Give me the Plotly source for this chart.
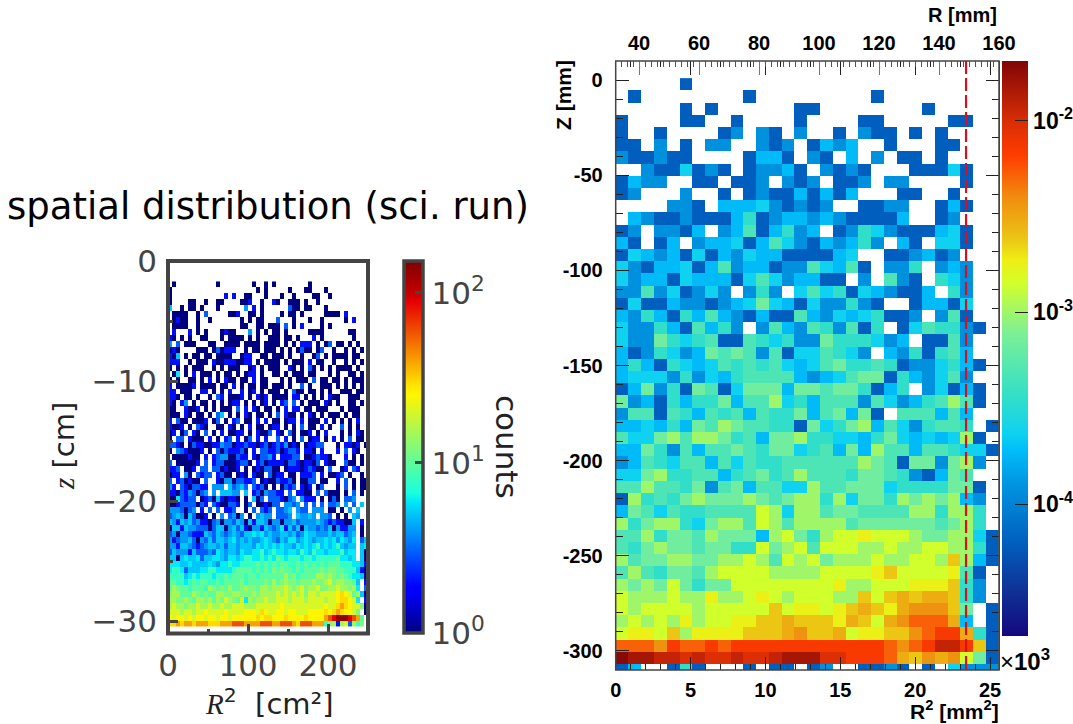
import math
import plotly.graph_objects as go

W, H = 1073, 724
def fx(p): return p / W
def fy(p): return 1 - p / H

# ---------- left panel: counts per cell, one character per cell
LEFT_LEVELS = {'1': 1, '2': 2, '3': 3, '4': 4, '5': 5, '6': 6, '7': 8, '8': 10, '9': 12,
               'a': 15, 'b': 20, 'c': 25, 'd': 30, 'e': 40, 'f': 60, 'g': 90, 'h': 135}
LEFT_ROWS = [
".1..........1........1..1.1........1..............",
"1.....................1.1.....1...11...1..........",
"1.............2.2..11...1...1..1....11..1.........",
"1....11..1..11....112..1..21..111.1..1............",
"5..1.11.1...1......4.2.1......311.11...1..........",
".1111..1.3.....112..11.1....1.11.1.....1111.2.....",
".1211..1..1.......1.1.11...3...1...1..1.....1.2...",
".1111..1..........11..11.111.3.1.2....1.1.........",
".2...2.1.1...1211...4.1.1.11.1.....1111......11...",
"21.1.1..11...1.1111.1.1..111.11.1...2.1.......1...",
"4.3.111...11..1111.1111.1111.1.1.222.1.13.11.1.1..",
"121....111.131222..1.11.111.1.1.1311.13..1..1.1.1.",
"215.1.11.11.1111..122..11.111.1..1..13.1.1111.11..",
"222..1.111.2112221122.1.1111.1.111.2.11..1..1.1.1.",
"1.1.1.111..1.1.111..12.1.111..21.1.31.1.1.1111.1..",
".16.1.2.111.1.11.1.122.1..11.1.111.11...1.1..11.1.",
"1.1..11.1.2.1.211.11.2.11...1.1.111.3.11.11.1.111.",
"2.11112.1111.11.2.1.11.11.111.1..3.1..111.1.1.1.1.",
"22.111..22.1.1.2..2.12.1.111.1.311.11.1.1..111.11.",
"221.11.1..1.32.1112.1.212.1111.22.1.1.1.211..111..",
"21.24.1.11.1.1.122.1.1.12.1.23.3.1.111.21.1..11.1.",
"11..2112.1.1.111.3.2.21.11.1.2.22.11.111...1.111..",
"111.21.11.1.35.1.1.21.11.1.3.211.1.21.1.111.1.11.",
"2.311.1112.13.1.23.11.2.2.11.122.2.111.2.1.1.1.2..",
"2112.1.321..11.21.1.2.11.122.1.1.3.11.2.1..3.1.1..",
"12.13.21.3.1.2.1122.1.2113.21.31.112.1.2...1.1.21.",
"1.33.2111.2.1.23.2.13.2.2..3.2.1.3.122.1.2.1.3.11.",
"3321.1322112243312232212312324121.12233...1.2212.1",
"1.4321112.1.31322231.2.3322312332.221.2...2.3.21..",
".1111211.2.234411322.213342.22233.1123221...2.1.1.",
"3.111112.3.2331112331.2312222133212213.211..311.1.",
"223.112.33.3312112.1.1213311.1222123211.3..12.32..",
"122.41.3233.2311.121.211.3122.11.2223.2.1123.1..1.",
"3.231211.3..2144133223.121132231.1133.11..2.3.1.11",
"42.3213322.444.53453.3231.1.1323.212.13...1.3.1.11",
"2213243134.4.55544.5.23143322.3.2211.3.3111.1.3.1.",
"1163233.1231521221.1.513.3332134.4222.1.131.334...",
"1123333132.3211332.13.112133.4434.3.3.3.334.4.3.5.",
"4443134.2.3.3.223..1.3.323.3345.433.444.11.1.4.5..",
"3454153112.1.4.3414.1.4544.3334.54454.443.1.1.54..",
"54254534221341443541525541441445344445432322115.2.",
"15525443331355145352144254346253515443435142244.1.",
"34144322254354345435565645445545346554445455345.1.",
"42344531435355456454544565435466456545565646546.35",
"44255432345545355455546565656554656567565675455.56",
"35444253334365455465566756766566576576656667566.51",
"55156556355665466567766767687677767767777786656.51",
"66655655556546676677778787878877878787878887776652",
"67763555667766667888878787989887878888989988777521",
"77775676777677878887887888888a8978888aa9a989876651",
"88776787887787888897888898a89a998999a99ab9aa9985.2",
"8a98878887a9898a889a998aa9aaaba9ab9aab99aabaa9a6.3",
"9aa888a98988aa99aa999a9aaaabababab9bbabbbbcdcb8a51",
"aa99a98aa9a8a9ba98b6a9aabaabbbabbbabbbbabbcddcb6.2",
"abaa9aabaabaabaabbbaaabbbbbbcbbbbbbbbbbcbbdedcbb91",
"bbbabbabbcbbbbcbbbbcccbdcbbccbccbbbccccdcdedccb9.1",
"cbccbcbccbccbccbccccccdcddcccdccccdccccefghhhgfe8.",
"ddedeedeeedddeeefffeeeefffeefffedfffeee79a2ab3a79.",
]
LEFT_X0, LEFT_DX = 2.5, 5.0
LEFT_Y_BOTTOM, LEFT_Y_STEP = -30.2, 0.4956
LEFT_XTICKS = [0, 100, 200]
LEFT_XMINOR = [50, 150, 250]
LEFT_YTICKS = [0, -10, -20, -30]
LEFT_YMINOR = [-5, -15, -25]
LEFT_CBAR_TICKS = [0, 1, 2]

# ---------- right panel: rate per cell, one character per cell
RIGHT_LEVELS = {'A': -4.2, 'B': -3.92, 'C': -3.73, 'D': -3.63, 'E': -3.45, 'F': -3.32, 'G': -3.16,
                'H': -3.0, 'I': -2.85, 'J': -2.74, 'K': -2.62, 'L': -2.52, 'M': -2.42, 'N': -2.28,
                'O': -2.15, 'P': -2.02, 'Q': -1.93, 'R': -1.82, 'S': -1.72}
RIGHT_ROWS = [
".....A........................",
".A........A.........A.........",
".....A.A......AA........A.....",
"A....AA..A....A....AA.....AA..",
"A..A....AB.BA.B..A.BAA.A.A....",
"AA.B.A.BB..BAB.ACBC..A...AA...",
"BAABAA....ACCA.BA.C.B.AA.A....",
"..BAADABA.ABBCA.BABA...AAADA..",
"ACBB..AA.AAB.BAB.AAB.BB....A..",
"AB...B..A.ABAACACAC...AA..A...",
"....BBA.CCCDBABAB..AABB..ACA..",
".CBAABAAACEABCCBCBAAAAC..AB...",
"AB.BBAC.BCFACEBC.ABEDBAAACDA..",
"CA.AC.BCCDACFDBACBCEB.CA.DDA..",
"ADCBCADACBDCCAAAACD..AABCAB...",
"DBACCDACFBCCABBFDCFA.BBE.BCB..",
"DBCCADCCCADFDBCCAA.B.FBA.EDB..",
"BBFBDABDB.BEB.DFDEADCBAAC.EB..",
"ADAACBBABCDGDCADBBEBA..ACCAD..",
"CBECAECFCBACAAFCBDCDEAAB.BFA..",
"DBBECAFCEB.BFCBFEBFAE.ADFEEBA.",
"DBBGEDEFAAFEDEBBGEEEDBC.AAFB..",
"CABEDBCGFGFBFADDFEDB.CBEAEFC..",
"CECAEDCDFEFEFDCDFGEEFEABBDECA.",
"CDDDBEBDCEFFFFCBCDFGGAECBDFB..",
"ACGBEAGFADGGGCGGFGGEACE.BDACA.",
"GBCAECEEGCFFHDECFFFBFDBCEFHFA.",
"BFFAFECFEFCFEEGCFGCGA.FFFCFC..",
"CCDCECGFHGFFEEAGDEGHCFDBEFFE.A",
"FDDGHFHHGEFCGGHEEDDCEGDCDCDHA.",
"CCGEBFCFFGFEGGDEFCGCHFFCFFEDDA",
"BCFEDFFCFDFEEFFFFFFHGFAGGBGHB.",
"DDGHEEFFCEFGEFHFFFEGGFEBACGF..",
"FFHFFEGBFGCFFDDHFFGGGDEEEEGGA.",
"AHEFEGHGGGHGFGHHEHDGGEHGHGHCB.",
"CGFDFEEFFFFIHDHHFGGFFFFHHEHHE.",
"HEGHHEDGHHFIHFHHHHFGGGGGGFGHE.",
"FFHEGGFHGGGCHIGEHIIJIIIHGGHHDA",
"FEGHGGFGGEEIGHIFIIIHHIHHIIHHEA",
"HFGGHHGGHHIHFIHIGHHHIHHIIHKHCA",
"FHFEGGFHIIIIHHHHIIIIJKIIIIJFA.",
"HGHGIGEGGIIIIIIIIJHHIIIJJJKEB.",
"IHHHIHHJHHIJIHIIIHHKIKLKLLKEB.",
"IHIIIIHIIIIIKIJJIJKLKJLMMMKG.A",
"HIHIHJHIIJJKKLKKKJLKILMNNNLC.A",
"IJJIKHJJJJKKKLMKKLIJJKKMNOOLEA",
"NNNMONNONOOOOOOOOOOOONMNOQQOKA",
"SRRQQPQPPQPPQRRRPPOOONLKMLMIGA",
"AC..AEA...A.AA.AB..AABA.A.DBBB",
]
RIGHT_X0, RIGHT_DX = 0.4267, 0.8533
RIGHT_Y_BOTTOM, RIGHT_Y_STEP = -309.9, 6.41
R2_CUT = 23.4
R2_TICKS = [0, 5, 10, 15, 20, 25]
R2_TOP_TICKS = [5, 10, 15, 20, 25]
R_TICKS = [40, 60, 80, 100, 120, 140, 160]
Z_TICKS = [0, -50, -100, -150, -200, -250, -300]
RIGHT_CBAR_TICKS = [-2, -3, -4]
RIGHT_CBAR_MINOR = [k + math.log10(m) for k in (-5, -4, -3, -2) for m in (2, 3, 4, 5, 6, 7, 8, 9)]

def decode(rows, levels, n, transform):
    out = []
    for r in reversed(rows):  # bottom row first, the y values rise
        r = r.ljust(n, '.')[:n]
        out.append([transform(levels[c]) if c in levels else None for c in r])
    return out

left_z = decode(LEFT_ROWS, LEFT_LEVELS, 50, math.log10)
right_z = decode(RIGHT_ROWS, RIGHT_LEVELS, 30, lambda v: v)

JET = [[0, "#00007f"], [0.11, "#0000ff"], [0.125, "#0000ff"], [0.35, "#00e5f8"], [0.375, "#16ffe1"],
       [0.64, "#fff500"], [0.66, "#ffea00"], [0.89, "#e80000"], [0.91, "#c80000"], [1, "#7f0000"]]
RIGHT_CMIN, RIGHT_CMAX = -4.6875, -1.69
def t(y): return (636 - y) / 575
RIGHT_SCALE = [[0, "#14087f"], [t(590), "#0f3296"], [t(543), "#005fbe"], [t(483), "#0096e1"],
               [t(450), "#00befa"], [t(433), "#0fd2f0"], [t(393), "#36e0c4"], [t(333), "#7cf096"],
               [t(283), "#d2ff2a"], [t(260), "#eeee14"], [t(237), "#ebc314"], [t(197), "#f08c0f"],
               [t(155), "#ff3c00"], [t(120), "#d72d05"], [1, "#820505"]]

DARK = "#444444"
BIG = dict(family="DejaVu Sans", size=31, color=DARK)
ROOT = dict(family="Liberation Sans", size=20, color="black", weight="bold")
ROOTBAR = dict(family="Liberation Sans", size=23, color="black", weight="bold")
SERIF = "<span style=\"font-family:'Liberation Serif'\"><i>%s</i></span>"

fig = go.Figure()
# left heatmap
fig.add_trace(go.Heatmap(
    z=left_z, x0=LEFT_X0, dx=LEFT_DX, y0=LEFT_Y_BOTTOM, dy=LEFT_Y_STEP, xaxis="x", yaxis="y",
    colorscale=JET, zmin=0, zmax=2.188, hoverongaps=False,
    colorbar=dict(x=fx(403.5), xanchor="left", y=fy(447), yanchor="middle", thickness=19, thicknessmode="pixels",
                  len=372, lenmode="pixels", xpad=0, ypad=0, outlinewidth=3.5, outlinecolor=DARK,
                  tickvals=LEFT_CBAR_TICKS, ticktext=["10<sup>0</sup>", "10<sup>1</sup>", "10<sup>2</sup>"],
                  ticks="inside", ticklen=9, tickwidth=3, tickcolor=DARK, tickfont=BIG)))
# right heatmap
fig.add_trace(go.Heatmap(
    z=right_z, x0=RIGHT_X0, dx=RIGHT_DX, y0=RIGHT_Y_BOTTOM, dy=RIGHT_Y_STEP, xaxis="x2", yaxis="y2",
    colorscale=RIGHT_SCALE, zmin=RIGHT_CMIN, zmax=RIGHT_CMAX, hoverongaps=False,
    colorbar=dict(x=fx(1002), xanchor="left", y=fy(348.5), yanchor="middle", thickness=26, thicknessmode="pixels",
                  len=575, lenmode="pixels", xpad=0, ypad=0, outlinewidth=0,
                  tickvals=RIGHT_CBAR_TICKS, ticktext=["10<sup>-2</sup>", "10<sup>-3</sup>", "10<sup>-4</sup>"],
                  ticks="inside", ticklen=13, tickwidth=1, tickcolor="#222", tickfont=ROOTBAR)))
# cut line
fig.add_trace(go.Scatter(x=[R2_CUT, R2_CUT], y=[10, -310], mode="lines", xaxis="x2", yaxis="y2",
                         line=dict(color="#d8101c", width=2.2, dash="13px,4px"), showlegend=False))
# helpers that carry the extra axes
fig.add_trace(go.Scatter(x=R2_TOP_TICKS, y=[None] * 5, mode="markers", xaxis="x3", yaxis="y2", showlegend=False))
fig.add_trace(go.Scatter(x=R_TICKS, y=[None] * 7, mode="markers", xaxis="x4", yaxis="y2", showlegend=False))
fig.add_trace(go.Scatter(x=[0], y=[None], mode="markers", xaxis="x2", yaxis="y3", showlegend=False))

L_X, L_Y = (168, 368), (261, 633.5)
R_X, R_Y = (615.7, 999), (61, 670)
dom_x = lambda a: [fx(a[0]), fx(a[1])]
dom_y = lambda a: [fy(a[1]), fy(a[0])]
lminor = dict(ticks="inside", ticklen=5, tickwidth=3, tickcolor=DARK)

fig.update_layout(
    width=W, height=H, margin=dict(l=0, r=0, t=0, b=0, autoexpand=False), showlegend=False,
    paper_bgcolor="white", plot_bgcolor="rgba(0,0,0,0)",
    xaxis=dict(domain=dom_x(L_X), range=[0, 250], anchor="y", showgrid=False, zeroline=False,
               tickvals=LEFT_XTICKS, ticktext=[str(v) for v in LEFT_XTICKS], ticks="inside", ticklen=10, tickwidth=3,
               tickcolor=DARK, tickfont=BIG, ticklabelstandoff=10, minor=dict(tickvals=LEFT_XMINOR, **lminor)),
    yaxis=dict(domain=dom_y(L_Y), range=[-31, 0], anchor="x", showgrid=False, zeroline=False,
               tickvals=LEFT_YTICKS, ticktext=["0", "\u221210", "\u221220", "\u221230"], ticks="inside", ticklen=10,
               tickwidth=3, tickcolor=DARK, tickfont=BIG, ticklabelstandoff=10, minor=dict(tickvals=LEFT_YMINOR, **lminor)),
    xaxis2=dict(domain=dom_x(R_X), range=[0, 25.6], anchor="y2", showgrid=False, zeroline=False,
                tickvals=R2_TICKS, ticktext=[str(v) for v in R2_TICKS], ticks="inside", ticklen=13, tickwidth=1,
                tickcolor="#222", tickfont=ROOT, ticklabelstandoff=6,
                minor=dict(dtick=1, ticks="inside", ticklen=6, tickwidth=1, tickcolor="#222")),
    yaxis2=dict(domain=dom_y(R_Y), range=[-310, 10], anchor="x2", showgrid=False, zeroline=False,
                tickvals=Z_TICKS, ticktext=[str(v) for v in Z_TICKS], ticks="inside", ticklen=13, tickwidth=1,
                tickcolor="#222", tickfont=ROOT, ticklabelstandoff=8, mirror="ticks", showline=True, linewidth=1, linecolor="#444",
                minor=dict(dtick=10, ticks="inside", ticklen=7, tickwidth=1, tickcolor="#222")),
    xaxis3=dict(domain=dom_x(R_X), range=[0, 25.6], overlaying="x2", anchor="y2", side="top", showgrid=False, zeroline=False,
                tickvals=R2_TOP_TICKS, showticklabels=False, ticks="inside", ticklen=14, tickwidth=1, tickcolor="#222",
                minor=dict(dtick=1, ticks="inside", ticklen=6, tickwidth=1, tickcolor="#222")),
    xaxis4=dict(domain=dom_x(R_X), range=[32.23, 160], overlaying="x2", anchor="y2", side="top", showgrid=False, zeroline=False,
                tickvals=R_TICKS, ticktext=[str(v) for v in R_TICKS], ticks="inside", ticklen=14, tickwidth=1, tickcolor="#777",
                tickfont=ROOT, ticklabelstandoff=6,
                minor=dict(dtick=2, ticks="inside", ticklen=6, tickwidth=1, tickcolor="#555")),
    yaxis3=dict(domain=[fy(636), fy(61)], range=[RIGHT_CMIN, RIGHT_CMAX], anchor="free", position=fx(1027.7),
                side="right", showgrid=False, zeroline=False, showticklabels=False, tickvals=[], ticks="",
                minor=dict(tickvals=RIGHT_CBAR_MINOR, ticks="inside", ticklen=6, tickwidth=1, tickcolor="#222")),
    shapes=[
        dict(type="rect", xref="x domain", yref="y domain", x0=0, x1=1, y0=0, y1=1, layer="above",
             line=dict(color=DARK, width=4)),
        dict(type="rect", xref="x2 domain", yref="y2 domain", x0=0, x1=1, y0=0, y1=1, layer="above",
             line=dict(color="#444", width=1.5)),
    ],
    annotations=[
        dict(text=txt, x=fx(x), y=fy(y), xref="paper", yref="paper", showarrow=False, textangle=ang,
             xanchor="center", yanchor="middle", font=f)
        for txt, x, y, ang, f in [
            ("spatial distribution (sci. run)", 268, 206, 0, dict(family="DejaVu Sans", size=37, color="black")),
            (SERIF % "z" + " [cm]", 64, 446, -90, dict(family="DejaVu Sans", size=29, color="#222")),
            (SERIF % "R" + "<sup>2</sup>  [cm\u00b2]", 269, 702, 0, dict(family="DejaVu Sans", size=29, color="#222")),
            ("counts", 507, 447, 90, dict(family="DejaVu Sans", size=31, color="#222")),
            ("R [mm]", 962, 15, 0, dict(family="Liberation Sans", size=20, color="black", weight="bold")),
            ("Z [mm]", 563, 95, -90, dict(family="Liberation Sans", size=21, color="black", weight="bold")),
            ("R<sup>2</sup> [mm<sup>2</sup>]", 954, 710, 0, dict(family="Liberation Sans", size=21, color="black", weight="bold")),
            ("\u00d7<b>10<sup>3</sup></b>", 1025, 660, 0, dict(family="Liberation Sans", size=24, color="black")),
        ]
    ],
)

fig.write_html("out.html", config={"displayModeBar": False},
               post_script="document.body.style.margin='0';document.body.style.overflow='hidden';")
